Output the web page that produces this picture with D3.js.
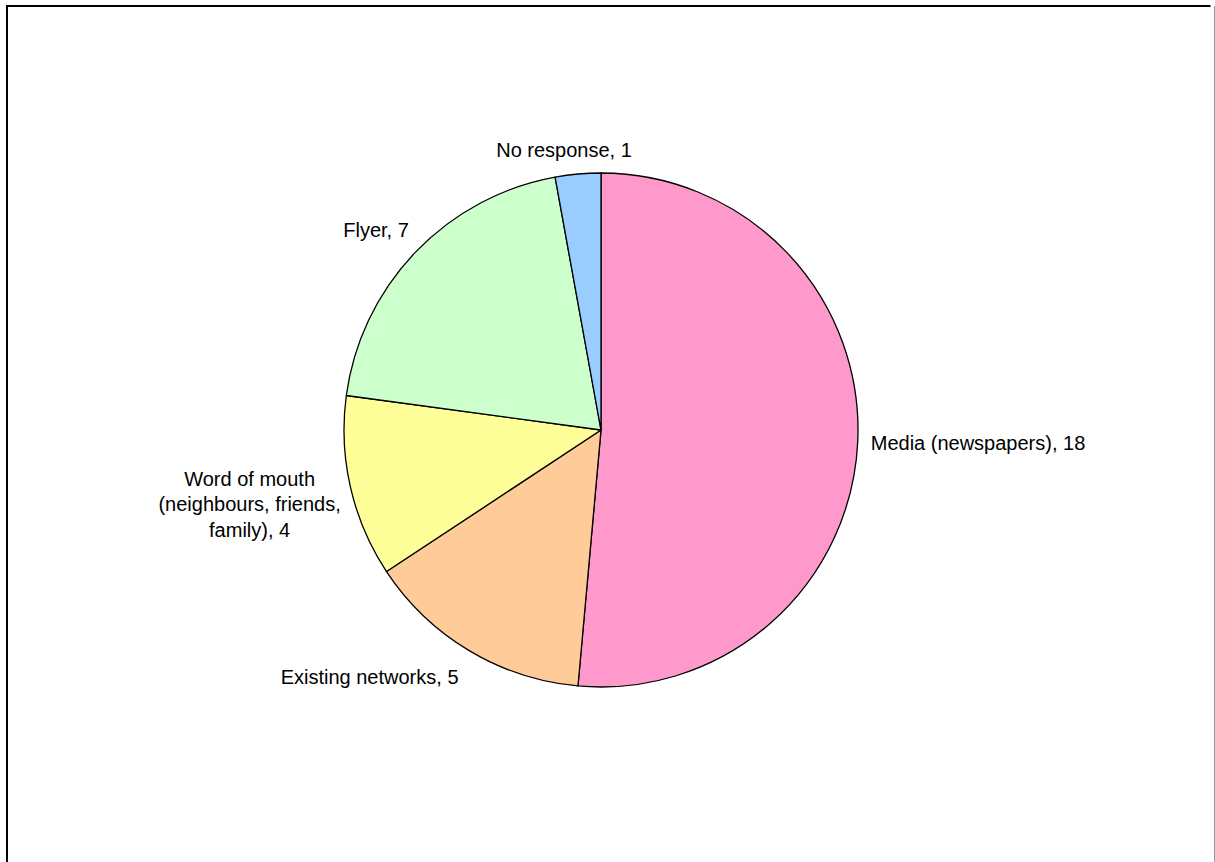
<!DOCTYPE html>
<html>
<head>
<meta charset="utf-8">
<script src="https://cdn.jsdelivr.net/npm/d3@7"></script>
<style>
  html, body { margin: 0; padding: 0; background: #fff; }
  svg { display: block; }
  text { font-family: "Liberation Sans", Arial, sans-serif; font-size: 20px; fill: #000; }
</style>
</head>
<body>
<svg id="chart" width="1215" height="862"></svg>
<script>
// Data
const categories = ["Media (newspapers)", "Existing networks", "Word of mouth", "Flyer", "No response"];
const values = [18, 5, 4, 7, 1];
const labelLines = [
  ["Media (newspapers), 18"],
  ["Existing networks, 5"],
  ["Word of mouth", "(neighbours, friends,", "family), 4"],
  ["Flyer, 7"],
  ["No response, 1"]
];
const colors = ["#FF99CC", "#FFCC99", "#FFFF99", "#CCFFCC", "#99CCFF"];

// Layout
const W = 1215, H = 862;
const cx = 601, cy = 430, radius = 257;
const labelGap = 13;
const lineHeight = 25.5;
// small label nudges to match the original's label placement
const labelNudge = {"Flyer": [3, -6], "Word of mouth": [3, 6], "Existing networks": [-4, 6]};

const svg = d3.select("#chart");

// Frame
svg.append("line").attr("x1", 6).attr("x2", 1210.5).attr("y1", 6).attr("y2", 6)
  .attr("stroke", "#000").attr("stroke-width", 2);
svg.append("line").attr("x1", 7).attr("x2", 7).attr("y1", 5).attr("y2", H + 2)
  .attr("stroke", "#000").attr("stroke-width", 2);
svg.append("line").attr("x1", 1214.5).attr("x2", 1214.5).attr("y1", 6).attr("y2", H + 2)
  .attr("stroke", "#999").attr("stroke-width", 1);

const data = categories.map((c, i) => ({cat: c, value: values[i], lines: labelLines[i], color: colors[i]}));

const pie = d3.pie().value(d => d.value).sort(null);
const arcs = pie(data);
const arc = d3.arc().innerRadius(0).outerRadius(radius);

const g = svg.append("g").attr("transform", `translate(${cx},${cy})`);

g.selectAll("path.slice").data(arcs).join("path")
  .attr("class", "slice")
  .attr("d", arc)
  .attr("fill", d => d.data.color)
  .attr("stroke", "#000")
  .attr("stroke-width", 1.3)
  .attr("stroke-linejoin", "round");

// Labels
const lg = g.selectAll("g.label").data(arcs).join("g").attr("class", "label");
lg.each(function(d) {
  const sel = d3.select(this);
  const t = sel.append("text").attr("text-anchor", "middle");
  d.data.lines.forEach((ln, i) => {
    t.append("tspan").attr("x", 0).attr("y", i * lineHeight).text(ln);
  });
  const bb = t.node().getBBox();
  const mid = (d.startAngle + d.endAngle) / 2;
  const dx = Math.sin(mid), dy = -Math.cos(mid);
  const R = radius + labelGap;
  const px = dx * R, py = dy * R;
  const fx = Math.max(-1, Math.min(1, dx * 2.1));
  const bcx = px + fx * bb.width / 2;
  const bcy = py + dy * bb.height / 2;
  const nudge = labelNudge[d.data.cat] || [0, 0];
  const tx = bcx - (bb.x + bb.width / 2) + nudge[0];
  const ty = bcy - (bb.y + bb.height / 2) + nudge[1];
  sel.attr("transform", `translate(${tx},${ty})`);
});
</script>
</body>
</html>
